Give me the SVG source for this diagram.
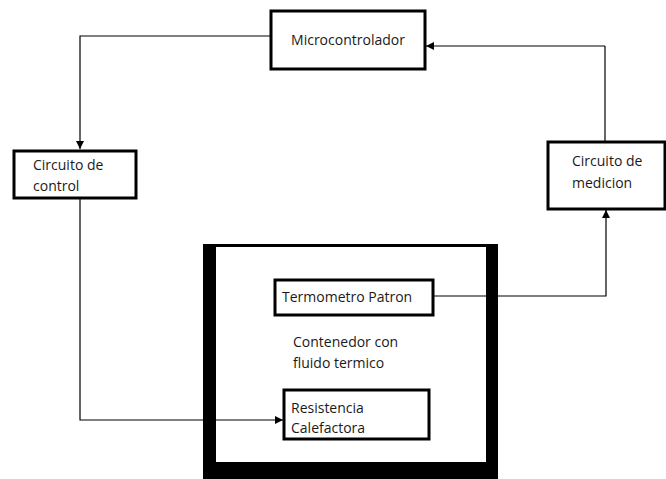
<svg xmlns="http://www.w3.org/2000/svg" width="666" height="479" viewBox="0 0 666 479">
<style>
.box{fill:#fff;stroke:#000;stroke-width:3}
.t{font-family:"Open Sans","Liberation Sans",sans-serif;font-size:14px;fill:#1a1a1a}
.c{fill:none;stroke:#000;stroke-width:1.2}
</style>
<defs>
<marker id="ah" viewBox="0 0 10 10" refX="10" refY="5" markerWidth="8" markerHeight="8" markerUnits="userSpaceOnUse" orient="auto">
<path d="M0,0 L10,5 L0,10 z" fill="#000"/>
</marker>
</defs>
<rect width="666" height="479" fill="#fff"/>
<g id="contenedor">
<rect x="203" y="244" width="295" height="240" fill="#000"/>
<rect x="216" y="247" width="270" height="215" fill="#fff"/>
<text class="t" x="293" y="347">Contenedor con</text>
<text class="t" x="293" y="368">fluido termico</text>
</g>
<g id="connectors">
<path class="c" d="M271,36 H80 V149" marker-end="url(#ah)"/>
<path class="c" d="M605,46 V46 H426" marker-end="url(#ah)"/>
<path class="c" d="M605,142 V46"/>
<path class="c" d="M433,296 H606 V210" marker-end="url(#ah)"/>
<path class="c" d="M80,198 V420 H283" marker-end="url(#ah)"/>
</g>
<g id="microcontrolador">
<rect class="box" x="271" y="11" width="154" height="58"/>
<text class="t" x="348" y="45" text-anchor="middle">Microcontrolador</text>
</g>
<g id="circuito-control">
<rect class="box" x="14" y="151" width="122" height="47"/>
<text class="t" x="33" y="170">Circuito de</text>
<text class="t" x="33" y="191">control</text>
</g>
<g id="circuito-medicion">
<rect class="box" x="548" y="142" width="117" height="67"/>
<text class="t" x="572" y="166">Circuito de</text>
<text class="t" x="572" y="188">medicion</text>
</g>
<g id="termometro">
<rect class="box" x="275" y="280" width="158" height="35"/>
<text class="t" x="282" y="302">Termometro Patron</text>
</g>
<g id="resistencia">
<rect class="box" x="284" y="390" width="145" height="49"/>
<text class="t" x="291" y="413">Resistencia</text>
<text class="t" x="291" y="433">Calefactora</text>
</g>
</svg>
